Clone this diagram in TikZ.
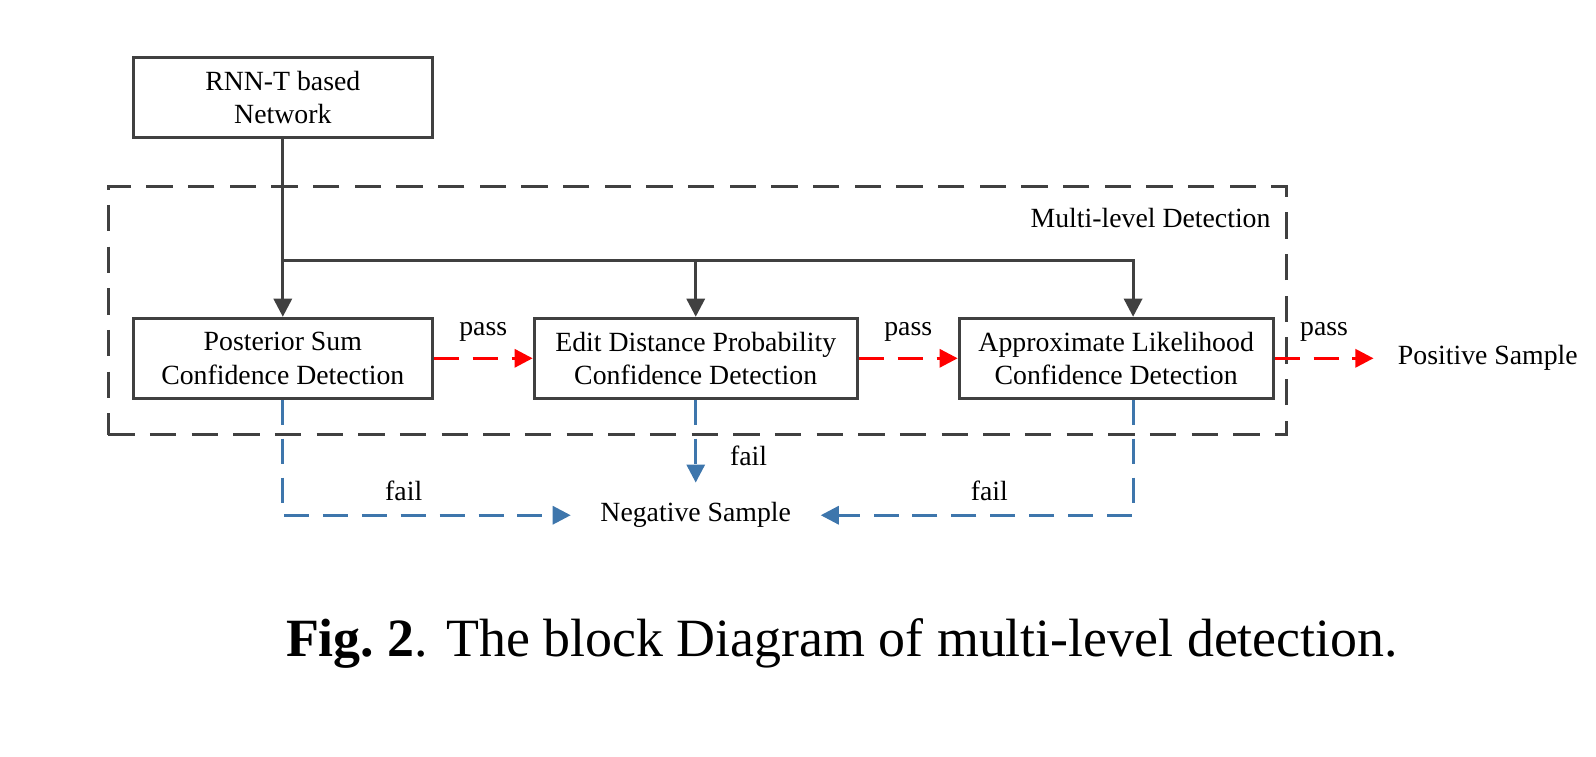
\documentclass[tikz,border=0pt]{standalone}
\usepackage{fontspec}
\setmainfont{Liberation Serif}
\usepackage{xcolor}
\usepackage{tikz}
\usetikzlibrary{arrows.meta, positioning}
\definecolor{linegray}{RGB}{64, 64, 64}
\definecolor{passred}{RGB}{255, 0, 0}
\definecolor{failblue}{RGB}{62, 118, 172}

\begin{document}
\begin{tikzpicture}[
      x=0.36pt, y=-0.36pt,
      font=\fontsize{10}{12}\selectfont,
      box/.style={rectangle, draw=linegray, line width=1.1pt, minimum height=28.8pt, inner sep=0pt, align=center},
      groupbox/.style={rectangle, draw=linegray, line width=1.1pt, dash pattern=on 9.5pt off 5.5pt, inner sep=0pt},
      tag/.style={inner sep=0pt},
      arrow/.style={-{Triangle[length=6.5pt, width=6.5pt]}, line width=1.1pt, draw=linegray},
      passline/.style={arrow, draw=passred, dash pattern=on 9pt off 5pt},
      failline/.style={arrow, draw=failblue, dash pattern=on 9pt off 5pt}
    ]
      \useasboundingbox (0,0) rectangle (1596,757);

      \node[box, minimum width=107.6pt] (ps) at (282.8,358.3) {Posterior Sum\\Confidence Detection};
      \node[box, minimum width=116.3pt, right=35.6pt of ps] (edit) {Edit Distance Probability\\Confidence Detection};
      \node[box, minimum width=113pt, right=35.6pt of edit] (al) {Approximate Likelihood\\Confidence Detection};
      \node[box, minimum width=107.6pt, above=64pt of ps] (rnn) {RNN-T based\\Network};
      \node[tag, inner xsep=8.6pt, right=35.6pt of al] (pos) {Positive Sample};
      \node[tag, inner xsep=10.5pt, inner ysep=7pt, below=29.8pt of edit] (neg) {Negative Sample};

      \node[groupbox, minimum width=424.3pt, minimum height=89.6pt] (group) at (697.6,310.5) {};
      \node[tag, anchor=east] (grouptitle) at (1271,218) {Multi-level Detection};
      \coordinate (split) at (283.7,260.7);

      \draw[arrow] (rnn) -- (ps);
      \draw[arrow] (split) -| (edit);
      \draw[arrow] (split) -| ([xshift=6.1pt]al.north);

      \draw[passline] (ps) -- node[above=2.3pt]{pass} (edit);
      \draw[passline] (edit) -- node[above=2.3pt]{pass} (al);
      \draw[passline] (al) -- node[above=2.3pt]{pass} (pos);

      \draw[failline] (ps.south) |- node[pos=0.71, above=1.5pt]{fail} (neg);
      \draw[failline] (edit) -- node[pos=0.68, right=8.5pt]{fail} (neg);
      \draw[failline] ([xshift=6.1pt]al.south) |- node[pos=0.73, above=1.5pt]{fail} (neg);

      \node[font=\fontsize{19.4}{23}\selectfont] (caption) at (842,643) {\textbf{Fig.~2}. The block Diagram of multi-level detection.};
    \end{tikzpicture}
\end{document}
